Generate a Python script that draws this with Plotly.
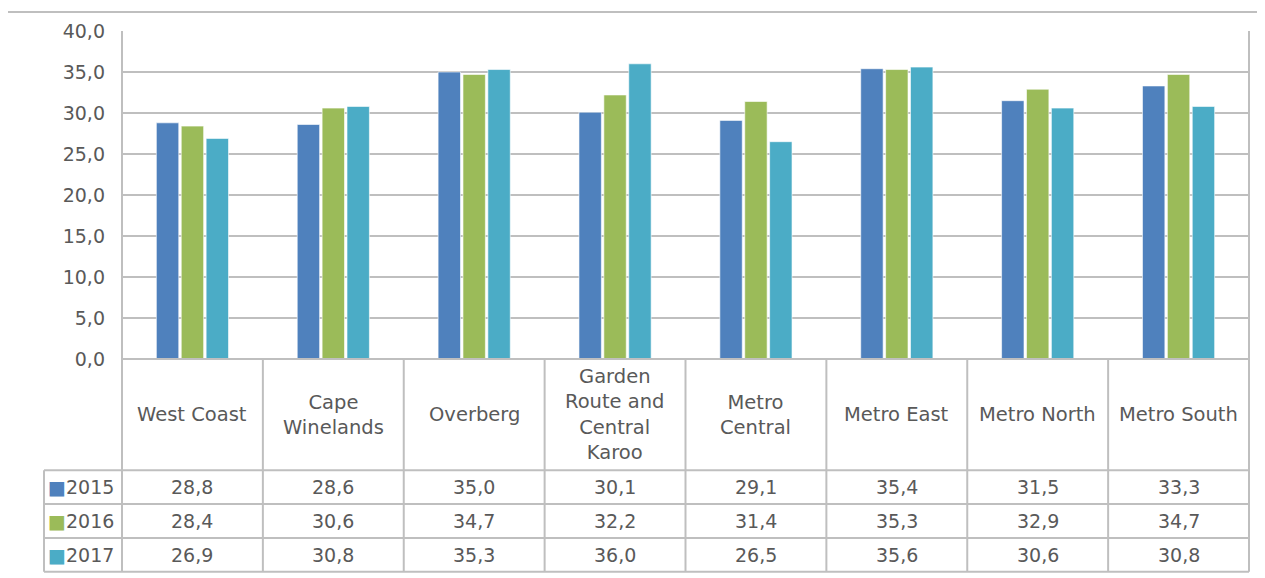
import plotly.graph_objects as go

districts = ["West Coast", "Cape Winelands", "Overberg", "Garden Route and Central Karoo",
             "Metro Central", "Metro East", "Metro North", "Metro South"]
header_labels = ["West Coast", "Cape<br>Winelands", "Overberg", "Garden<br>Route and<br>Central<br>Karoo",
                 "Metro<br>Central", "Metro East", "Metro North", "Metro South"]
years = ["2015", "2016", "2017"]
v2015 = [28.8, 28.6, 35.0, 30.1, 29.1, 35.4, 31.5, 33.3]
v2016 = [28.4, 30.6, 34.7, 32.2, 31.4, 35.3, 32.9, 34.7]
v2017 = [26.9, 30.8, 35.3, 36.0, 26.5, 35.6, 30.6, 30.8]
y_ticks = [0, 5, 10, 15, 20, 25, 30, 35, 40]

colors = ["#4F81BD", "#9BBB59", "#4BACC6"]
series = [v2015, v2016, v2017]
FONT = "DejaVu Sans"
TXT = "#595959"
GRID = "#BFBFBF"

# page body has an 8px margin, so the figure starts at (8, 8) on screen
OFF = 8
W, H = 1265, 578
L, R, T, B = 122 - OFF, W + OFF - 1249, 29 - OFF, H + OFF - 359
plot_h = H - T - B
plot_w = W - L - R


def py(pix):
    # screen pixel row -> paper y
    return (359 - pix) / plot_h


def px_(pix):
    return (pix - 122) / plot_w


fig = go.Figure()
for yr, vals, c in zip(years, series, colors):
    fig.add_trace(go.Bar(x=districts, y=vals, name=yr, marker_color=c,
                         marker_line=dict(color="rgba(255,255,255,0.6)", width=1)))

fig.update_layout(
    width=W, height=H,
    margin=dict(l=L, r=R, t=T, b=B),
    paper_bgcolor="white", plot_bgcolor="white",
    barmode="group", bargap=0.47, bargroupgap=0.1,
    showlegend=False,
    separators=",.",
    font=dict(family=FONT, size=19, color=TXT),
)
fig.update_xaxes(showticklabels=False, showgrid=False, zeroline=False, showline=False)
fig.update_yaxes(range=[0, 40], tickvals=y_ticks, tickformat=".1f", showgrid=True,
                 gridcolor=GRID, gridwidth=1.5, zeroline=False, showline=False,
                 ticklabelstandoff=16, tickfont=dict(size=19, color=TXT))

shapes = []
line = dict(color=GRID, width=2)
# outer chart frame
shapes.append(dict(type="line", xref="paper", yref="paper", x0=px_(6), x1=px_(1263),
                   y0=py(10), y1=py(10), line=line))
shapes.append(dict(type="line", xref="paper", yref="paper", x0=px_(6), x1=px_(6),
                   y0=py(10), y1=py(590), line=line))
# plot borders and table
row_lines = [359, 471, 505, 539, 573]
col_lines = [122 + i * (1249 - 122) / 8 for i in range(9)]
shapes.append(dict(type="line", xref="paper", yref="paper", x0=px_(122), x1=px_(122),
                   y0=py(29), y1=py(573), line=line))
shapes.append(dict(type="line", xref="paper", yref="paper", x0=px_(1249), x1=px_(1249),
                   y0=py(29), y1=py(573), line=line))
for i, r in enumerate(row_lines):
    x0 = 122 if i == 0 else 44
    shapes.append(dict(type="line", xref="paper", yref="paper", x0=px_(x0), x1=px_(1249),
                       y0=py(r), y1=py(r), line=line))
for cx in col_lines[1:-1]:
    shapes.append(dict(type="line", xref="paper", yref="paper", x0=px_(cx), x1=px_(cx),
                       y0=py(359), y1=py(573), line=line))
shapes.append(dict(type="line", xref="paper", yref="paper", x0=px_(44), x1=px_(44),
                   y0=py(471), y1=py(573), line=line))

ann = []
for d, lab in zip(districts, header_labels):
    ann.append(dict(x=d, xref="x", y=py(415), yref="paper", text=lab, showarrow=False,
                    font=dict(size=19.5, color=TXT, family=FONT), align="center",
                    yanchor="middle"))
row_centers = [488, 522, 556]
for yr, vals, c, rc in zip(years, series, colors, row_centers):
    for d, v in zip(districts, vals):
        ann.append(dict(x=d, xref="x", y=py(rc), yref="paper", text=f"{v:.1f}".replace(".", ","),
                        showarrow=False, font=dict(size=19, color=TXT, family=FONT),
                        yanchor="middle"))
    ann.append(dict(x=px_(116), xref="paper", y=py(rc), yref="paper",
                    text=f"<span style='color:{c}'>■</span>{yr}", showarrow=False,
                    xanchor="right", yanchor="middle", font=dict(size=19, color=TXT, family=FONT)))

fig.update_layout(shapes=shapes, annotations=ann)
fig.write_html("out.html")
